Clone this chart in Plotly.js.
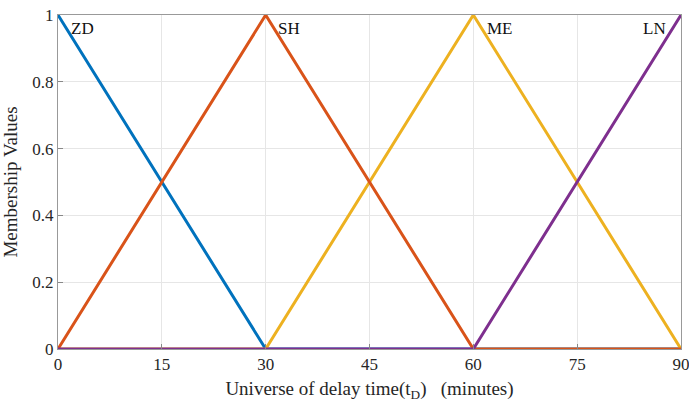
<!DOCTYPE html>
<html><head><meta charset="utf-8">
<script src="https://cdn.plot.ly/plotly-3.0.1.min.js"></script>
<style>html,body{margin:0;padding:0;background:#fff}#chart{width:689px;height:409px}</style>
</head><body><div id="chart"></div>
<script>
const zdX = [0, 30, 90], zdY = [1, 0, 0];
const shX = [0, 30, 60, 90], shY = [0, 1, 0, 0];
const meX = [0, 30, 60, 90], meY = [0, 0, 1, 0];
const lnX = [0, 60, 90], lnY = [0, 0, 1];
const labels = ['ZD', 'SH', 'ME', 'LN'];
const labelX = [3.6, 33.4, 63.8, 86.2];
const labelY = [0.96, 0.96, 0.96, 0.96];
const xTicks = [0, 15, 30, 45, 60, 75, 90];
const yTicks = [0, 0.2, 0.4, 0.6, 0.8, 1];
const yTickText = ['0', '0.2', '0.4', '0.6', '0.8', '1'];

const font = 'Liberation Serif, Times New Roman, serif';
const mk = (x, y, c) => ({x, y, type: 'scatter', mode: 'lines', line: {color: c, width: 3}, hoverinfo: 'skip', showlegend: false, cliponaxis: false});
const data = [
  mk(zdX, zdY, '#0072BD'),
  mk(meX, meY, '#EDB120'),
  mk(shX, shY, '#D95319'),
  mk(lnX, lnY, '#7E2F8E')
];
const annotations = labels.map((t, i) => ({x: labelX[i], y: labelY[i], xref: 'x', yref: 'y', text: t, showarrow: false, font: {family: font, size: 17, color: '#111'}}));
const layout = {
  width: 689, height: 409,
  margin: {l: 58, r: 8, t: 15, b: 60},
  paper_bgcolor: '#fff', plot_bgcolor: '#fff',
  font: {family: font, color: '#262626'},
  xaxis: {range: [0, 90], tickvals: xTicks, ticktext: xTicks.map(String), ticks: 'inside', ticklen: 5, tickcolor: '#888',
    ticklabeloverflow: 'allow',
    showgrid: true, gridcolor: '#e6e6e6', zeroline: false, showline: true, linecolor: '#999', mirror: true,
    tickfont: {family: font, size: 17, color: '#262626'},
    title: {text: 'Universe of delay time(t<sub>D</sub>)   (minutes)', font: {family: font, size: 19, color: '#262626'}, standoff: 8}},
  yaxis: {range: [0, 1], tickvals: yTicks, ticktext: yTickText, ticks: 'inside', ticklen: 5, tickcolor: '#888',
    ticklabeloverflow: 'allow',
    showgrid: true, gridcolor: '#e6e6e6', zeroline: false, showline: true, linecolor: '#999', mirror: true,
    tickfont: {family: font, size: 17, color: '#262626'},
    title: {text: 'Membership Values', font: {family: font, size: 19, color: '#262626'}, standoff: 10}},
  annotations: annotations
};
Plotly.newPlot('chart', data, layout, {displayModeBar: false, staticPlot: true});
</script></body></html>
